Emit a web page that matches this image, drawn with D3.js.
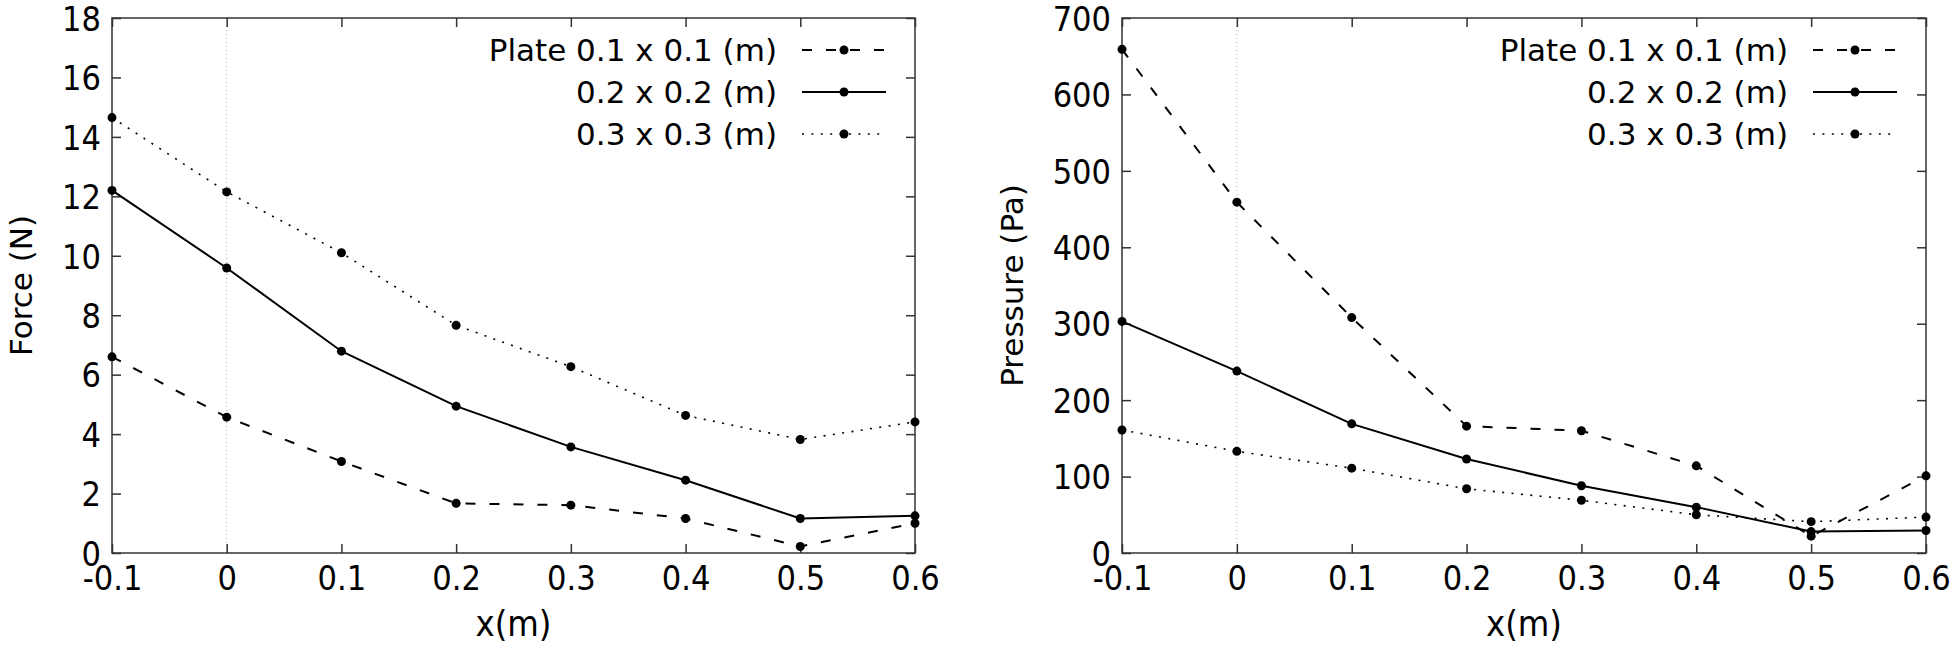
<!DOCTYPE html>
<html>
<head>
<meta charset="utf-8">
<script src="https://cdn.jsdelivr.net/npm/d3@7"></script>
<style>
  body { margin: 0; background: #fff; }
  svg { display: block; }
</style>
</head>
<body>
<div id="chart"></div>
<script>
// positions along the plate (m)
var xValues = [-0.1, 0, 0.1, 0.2, 0.3, 0.4, 0.5, 0.6];
var xTicks = [-0.1, 0, 0.1, 0.2, 0.3, 0.4, 0.5, 0.6];

var seriesNames = ["Plate 0.1 x 0.1 (m)", "0.2 x 0.2 (m)", "0.3 x 0.3 (m)"];

var force01 = [6.6, 4.57, 3.08, 1.67, 1.61, 1.16, 0.22, 1.0];
var force02 = [12.2, 9.59, 6.79, 4.94, 3.57, 2.45, 1.16, 1.25];
var force03 = [14.65, 12.15, 10.1, 7.66, 6.27, 4.63, 3.82, 4.41];
var forceTicks = [0, 2, 4, 6, 8, 10, 12, 14, 16, 18];

var pressure01 = [659, 459, 308, 166, 160, 114, 22, 101];
var pressure02 = [303, 238, 169, 123, 88, 60, 28, 29.5];
var pressure03 = [161, 133, 111, 84, 69, 50, 41, 47];
var pressureTicks = [0, 100, 200, 300, 400, 500, 600, 700];

var width = 1960, height = 652;
var dashes = ["10,14", null, "2,7.4"];
var tickFont = "'DejaVu Sans Condensed', 'DejaVu Sans'";

var svg = d3.select("#chart").append("svg")
    .attr("width", width)
    .attr("height", height);

// plain "-0.1" like the original, not the unicode minus
function plain(d) { return String(d); }

function drawPanel(left, right, yMax, yTicks, yLabel, labelX, series) {
  var top = 18, bottom = 553;
  var x = d3.scaleLinear().domain([-0.1, 0.6]).range([left, right]);
  var y = d3.scaleLinear().domain([0, yMax]).range([bottom, top]);

  var g = svg.append("g");

  // dotted zero line
  g.append("line")
      .attr("x1", x(0)).attr("x2", x(0))
      .attr("y1", top).attr("y2", bottom)
      .attr("stroke", "#aaa")
      .attr("stroke-width", 1)
      .attr("stroke-dasharray", "1,3");

  // inward ticks, mirrored on all four sides
  var tickStyle = function(sel) {
    sel.select(".domain").remove();
    sel.selectAll(".tick line").attr("stroke", "#333").attr("stroke-width", 1.5);
  };
  g.append("g")
      .attr("transform", "translate(0," + bottom + ")")
      .call(d3.axisBottom(x).tickValues(xTicks).tickSizeInner(-9).tickSizeOuter(0).tickFormat(plain))
      .call(tickStyle)
      .call(function(sel) {
        sel.selectAll("text")
          .attr("y", 37).attr("dy", 0)
          .attr("font-family", tickFont)
          .attr("font-size", 34)
          .attr("fill", "#000");
      });
  g.append("g")
      .attr("transform", "translate(0," + top + ")")
      .call(d3.axisTop(x).tickValues(xTicks).tickSizeInner(-9).tickSizeOuter(0).tickFormat(""))
      .call(tickStyle);
  g.append("g")
      .attr("transform", "translate(" + left + ",0)")
      .call(d3.axisLeft(y).tickValues(yTicks).tickSizeInner(-9).tickSizeOuter(0).tickFormat(plain))
      .call(tickStyle)
      .call(function(sel) {
        sel.selectAll("text")
          .attr("x", -11).attr("dy", "0.36em")
          .attr("font-family", tickFont)
          .attr("font-size", 34)
          .attr("fill", "#000");
      });
  g.append("g")
      .attr("transform", "translate(" + right + ",0)")
      .call(d3.axisRight(y).tickValues(yTicks).tickSizeInner(-9).tickSizeOuter(0).tickFormat(""))
      .call(tickStyle);

  // frame
  g.append("rect")
      .attr("x", left).attr("y", top)
      .attr("width", right - left).attr("height", bottom - top)
      .attr("fill", "none")
      .attr("stroke", "#333")
      .attr("stroke-width", 1.5);

  // axis titles
  g.append("text")
      .attr("x", (left + right) / 2)
      .attr("y", 636)
      .attr("text-anchor", "middle")
      .attr("font-family", tickFont)
      .attr("font-size", 36)
      .text("x(m)");
  g.append("text")
      .attr("transform", "translate(" + labelX + "," + ((top + bottom) / 2) + ") rotate(-90)")
      .attr("text-anchor", "middle")
      .attr("font-family", "'DejaVu Sans'")
      .attr("font-size", 31)
      .text(yLabel);

  var line = d3.line()
      .x(function(d, i) { return x(xValues[i]); })
      .y(function(d) { return y(d); });

  series.forEach(function(vals, k) {
    g.append("path")
        .datum(vals)
        .attr("d", line)
        .attr("fill", "none")
        .attr("stroke", "#000")
        .attr("stroke-width", k == 2 ? 1.6 : 2)
        .attr("stroke-dasharray", dashes[k]);
    g.selectAll(".pt" + k)
        .data(vals)
        .enter().append("circle")
        .attr("cx", function(d, i) { return x(xValues[i]); })
        .attr("cy", function(d) { return y(d); })
        .attr("r", 4.5)
        .attr("fill", "#000");
  });

  // legend
  var legend = g.selectAll(".legend")
      .data(seriesNames)
      .enter().append("g")
      .attr("transform", function(d, i) { return "translate(0," + (50 + i * 42) + ")"; });

  legend.append("text")
      .attr("x", right - 138)
      .attr("dy", "0.36em")
      .attr("text-anchor", "end")
      .attr("font-family", "'DejaVu Sans'")
      .attr("font-size", 31)
      .text(function(d) { return d; });
  legend.append("line")
      .attr("x1", right - 113).attr("x2", right - 29)
      .attr("stroke", "#000")
      .attr("stroke-width", function(d, i) { return i == 2 ? 1.6 : 2; })
      .attr("stroke-dasharray", function(d, i) { return dashes[i]; });
  legend.append("circle")
      .attr("cx", right - 71)
      .attr("r", 4.5)
      .attr("fill", "#000");
}

drawPanel(112, 915, 18, forceTicks, "Force (N)", 32, [force01, force02, force03]);
drawPanel(1122, 1926, 700, pressureTicks, "Pressure (Pa)", 1023, [pressure01, pressure02, pressure03]);
</script>
</body>
</html>
